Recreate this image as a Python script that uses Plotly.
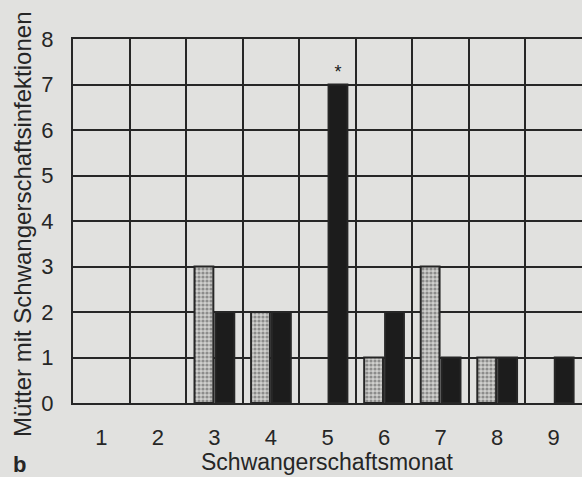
import plotly.graph_objects as go

months = [1, 2, 3, 4, 5, 6, 7, 8, 9]
month_labels = ["1", "2", "3", "4", "5", "6", "7", "8", "9"]
series_a = [0, 0, 3, 2, 0, 1, 3, 1, 0]   # stippled bars
series_b = [0, 0, 2, 2, 7, 2, 1, 1, 1]   # dark bars
marks_b = ["", "", "", "", "*", "", "", "", ""]
y_ticks = [0, 1, 2, 3, 4, 5, 6, 7, 8]
x_grid = [0.5, 1.5, 2.5, 3.5, 4.5, 5.5, 6.5, 7.5, 8.5, 9.5]

BG = "#e1e1df"
INK = "#262626"
FONT = "Liberation Sans, Arial, Helvetica, sans-serif"


def hide_zero(vals):
    return [v if v else None for v in vals]


fig = go.Figure()
fig.add_trace(go.Bar(
    x=months, y=hide_zero(series_a),
    marker=dict(color="#bdbdbb",
                line=dict(color=INK, width=2),
                pattern=dict(shape=".", fgcolor="#4a4a4a", bgcolor="#cfcfcd",
                             size=4, solidity=0.5)),
    showlegend=False,
))
fig.add_trace(go.Bar(
    x=months, y=hide_zero(series_b),
    marker=dict(color="#1c1c1c", line=dict(color=INK, width=2)),
    text=marks_b, textposition="outside",
    textfont=dict(family=FONT, size=18, color="#1a1a1a"),
    cliponaxis=False,
    showlegend=False,
))

fig.update_layout(
    width=582, height=477,
    margin=dict(l=73, r=0, t=39, b=74),
    paper_bgcolor=BG, plot_bgcolor=BG,
    barmode="group", bargap=0.26, bargroupgap=0.1,
    font=dict(family=FONT, color=INK),
    uniformtext=dict(minsize=8, mode="show"),
)
fig.update_xaxes(
    range=[0.5, 9.5], tickmode="array", tickvals=months, ticktext=month_labels,
    showgrid=False, zeroline=False, automargin=False,
    ticks="", ticklabelstandoff=14,
    tickfont=dict(size=22, color=INK),
    showline=True, linecolor=INK, linewidth=2, mirror=True,
    minor=dict(tickmode="array", tickvals=x_grid, showgrid=True,
               gridcolor=INK, gridwidth=2, ticks=""),
)
fig.update_yaxes(
    range=[0, 8], tickmode="array", tickvals=y_ticks,
    showgrid=True, gridcolor=INK, gridwidth=2, zeroline=False, automargin=False,
    ticks="", ticklabelstandoff=13,
    tickfont=dict(size=22, color=INK),
    showline=True, linecolor=INK, linewidth=2, mirror=True,
)

fig.add_annotation(text="Mütter mit Schwangerschaftsinfektionen", xref="paper", yref="paper",
                   x=-0.098, y=0.492, textangle=-90, showarrow=False,
                   xanchor="center", yanchor="middle",
                   font=dict(size=24, color=INK, family=FONT))
fig.add_annotation(text="Schwangerschaftsmonat", xref="paper", yref="paper",
                   x=0.4985, y=-0.163, showarrow=False,
                   xanchor="center", yanchor="middle",
                   font=dict(size=23, color=INK, family=FONT))
fig.add_annotation(text="<b>b</b>", xref="paper", yref="paper",
                   x=-0.106, y=-0.168, showarrow=False,
                   xanchor="center", yanchor="middle",
                   font=dict(size=22, color=INK, family=FONT))

page_fix = ("document.body.style.margin='0';"
            "document.body.style.overflow='hidden';"
            "document.body.style.background='" + BG + "';")
fig.write_html("out.html", post_script=page_fix,
               config={"displayModeBar": False})
